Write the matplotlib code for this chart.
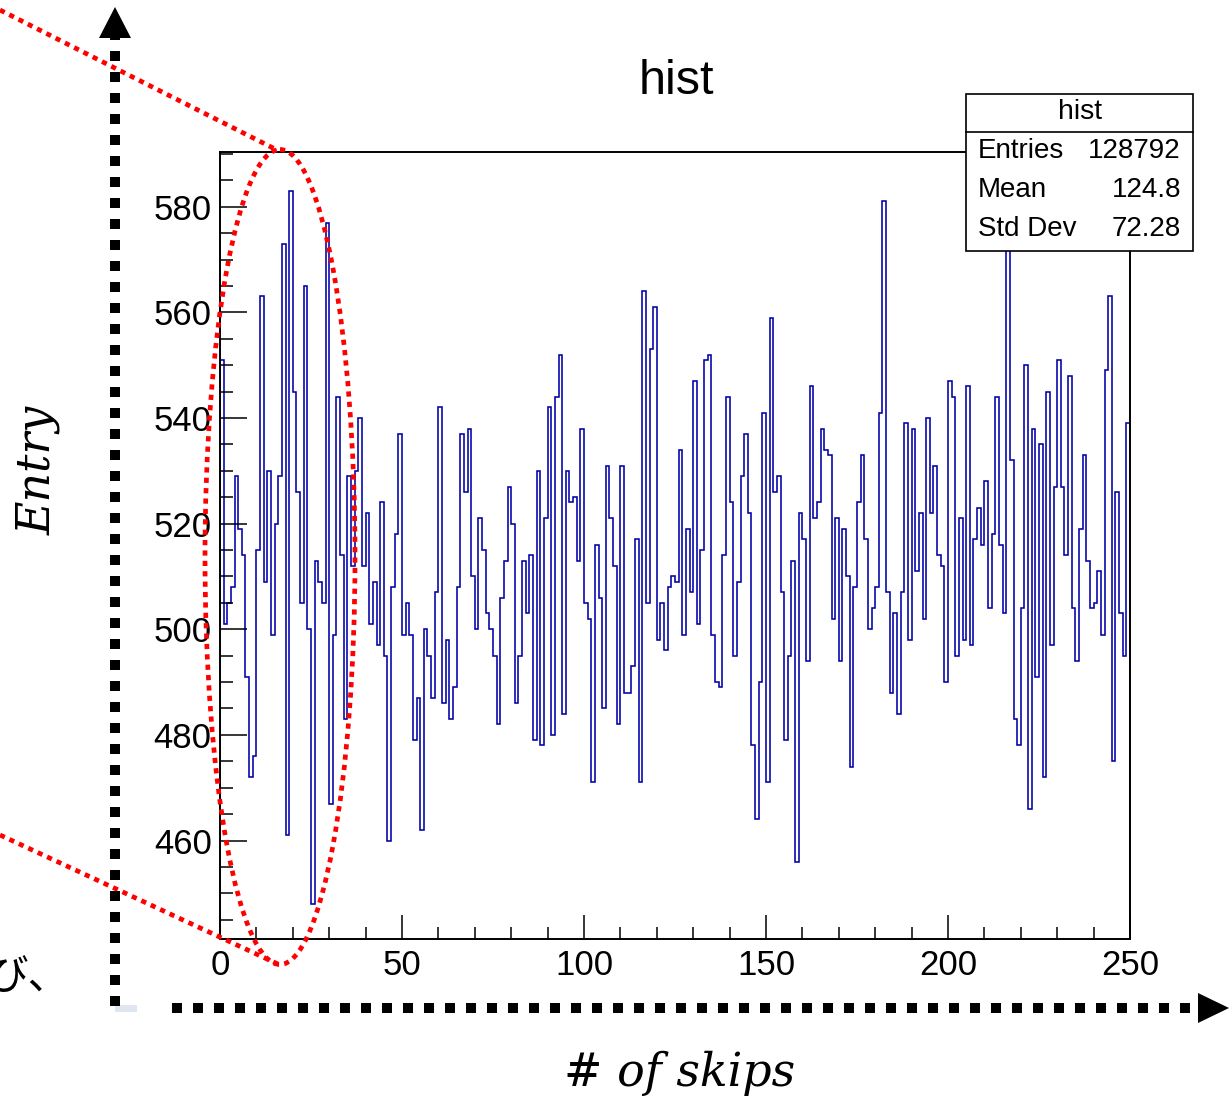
import numpy as np
import matplotlib
matplotlib.use('Agg')
import matplotlib.pyplot as plt
from matplotlib.patches import Ellipse, Polygon, Rectangle
from matplotlib.ticker import MultipleLocator

# 1 bin = 1 skip, 0..249
counts = [
    551, 501, 505, 508, 529, 519, 514, 491, 472, 476,
    515, 563, 509, 530, 499, 520, 529, 573, 461, 583,
    545, 526, 505, 565, 500, 448, 513, 509, 505, 577,
    467, 499, 544, 514, 483, 529, 512, 530, 540, 512,
    522, 501, 509, 497, 524, 495, 460, 508, 518, 537,
    499, 505, 499, 479, 487, 462, 500, 495, 487, 507,
    542, 486, 498, 483, 489, 508, 537, 526, 538, 510,
    500, 521, 515, 503, 500, 495, 482, 506, 513, 527,
    520, 486, 495, 513, 503, 514, 479, 530, 478, 521,
    542, 480, 544, 552, 484, 530, 524, 525, 513, 538,
    505, 502, 471, 516, 506, 485, 531, 521, 512, 482,
    531, 488, 488, 493, 517, 471, 564, 505, 553, 561,
    498, 505, 496, 508, 510, 509, 534, 499, 519, 507,
    547, 501, 515, 551, 552, 499, 490, 489, 514, 544,
    524, 495, 509, 529, 537, 522, 478, 464, 490, 541,
    471, 559, 526, 529, 507, 479, 495, 513, 456, 522,
    517, 494, 546, 521, 524, 538, 534, 533, 502, 521,
    494, 519, 510, 474, 508, 524, 533, 517, 500, 504,
    508, 541, 581, 507, 488, 503, 484, 507, 539, 498,
    538, 511, 522, 502, 540, 522, 531, 514, 512, 490,
    547, 544, 495, 521, 498, 546, 497, 517, 523, 516,
    528, 504, 518, 544, 516, 503, 574, 532, 483, 478,
    504, 550, 466, 538, 491, 535, 472, 545, 497, 527,
    551, 527, 514, 548, 504, 494, 519, 533, 513, 504,
    505, 511, 499, 549, 563, 475, 526, 503, 495, 539,
]
x_range = (0, 250)
y_range = (441.3, 590.3)
x_ticks = [0, 50, 100, 150, 200, 250]
y_ticks = [460, 480, 500, 520, 540, 560, 580]

title = 'hist'
stat_names = ['Entries', 'Mean', 'Std Dev']
stat_values = ['128792', '124.8', '72.28']
xlabel = '# of skips'
ylabel = 'Entry'
side_text = 'び、'

W, H = 1230, 1102
DPI = 100
SANS = 'Liberation Sans'


def main():
    fig = plt.figure(figsize=(W / DPI, H / DPI), dpi=DPI)

    # ROOT の TH1 っぽいフレーム（ピクセル指定で配置）
    l, t, r, b = 220, 152.3, 1130, 939.3
    ax = fig.add_axes([l / W, 1 - b / H, (r - l) / W, (b - t) / H])
    edges = np.arange(x_range[0], x_range[1] + 1)
    ax.stairs(counts, edges, baseline=y_range[0], color='#0000a8', lw=1.15)
    ax.set_xlim(*x_range)
    ax.set_ylim(*y_range)
    ax.set_xticks(x_ticks)
    ax.set_yticks(y_ticks)
    ax.xaxis.set_minor_locator(MultipleLocator(10))
    ax.yaxis.set_minor_locator(MultipleLocator(5))
    ax.tick_params(which='both', direction='in', top=False, right=False,
                   width=1.1, labelsize=25)
    ax.tick_params(axis='y', which='major', length=19.5, pad=6)
    ax.tick_params(axis='y', which='minor', length=9.5)
    ax.tick_params(axis='x', which='major', length=17, pad=7)
    ax.tick_params(axis='x', which='minor', length=8.5)
    for lab in ax.get_xticklabels() + ax.get_yticklabels():
        lab.set_family(SANS)
    for sp in ax.spines.values():
        sp.set_linewidth(1.4)

    # 上に重ねる注釈用の座標系（ピクセル、y 下向き）
    ov = fig.add_axes([0, 0, 1, 1], zorder=5)
    ov.set_xlim(0, W)
    ov.set_ylim(H, 0)
    ov.axis('off')

    ov.text(676, 82, title, ha='center', va='center', fontsize=35, family=SANS)

    # 統計ボックス
    ov.add_patch(Rectangle((966, 94), 227, 157, fc='white', ec='black', lw=1.2, zorder=3))
    ov.plot([966, 1193], [132, 132], color='black', lw=1.2, zorder=4)
    ov.text(1080, 112, title, ha='center', va='center', fontsize=20.5, family=SANS, zorder=4)
    for i, (name, val) in enumerate(zip(stat_names, stat_values)):
        y = 151 + i * 39
        ov.text(978, y, name, ha='left', va='center', fontsize=20, family=SANS, zorder=4)
        ov.text(1181, y, val, ha='right', va='center', fontsize=20, family=SANS, zorder=4)

    # 赤い点線の楕円と引き出し線
    red = dict(color='red', lw=3.4, ls=(0, (1.1, 1.1)))
    ov.plot([0, 277], [10, 150], **red)
    ov.plot([0, 280], [835, 965], **red)
    ov.add_patch(Ellipse((280, 557), 150, 815, fill=False, ec='red', lw=3.4,
                         ls=(0, (1.1, 1.1))))

    # 黒い点線の矢印（軸）
    blk = dict(color='black', lw=7.2, ls=(0, (1, 1.1)))
    ov.plot([115, 115], [1006, 38], **blk)
    ov.add_patch(Polygon([(115, 7), (99, 38), (131, 38)], closed=True,
                         fc='black', ec='none'))
    ov.plot([172, 1198], [1008, 1008], **blk)
    ov.add_patch(Polygon([(1229, 1008), (1198, 993), (1198, 1023)], closed=True,
                         fc='black', ec='none'))
    ov.add_patch(Rectangle((115, 1005), 22, 7, fc='#dfe6f0', ec='none'))

    ov.text(38, 470, ylabel, rotation=90, ha='center', va='center',
            fontsize=33, family='DejaVu Serif', style='italic')
    ov.text(680, 1073, xlabel, ha='center', va='center',
            fontsize=33, family='DejaVu Serif', style='italic')
    # 左端で切れている本文の一部
    ov.text(-14, 978, side_text, ha='left', va='center', fontsize=30,
            family=['Noto Sans CJK JP', 'DejaVu Sans'])

    fig.savefig('out.png', dpi=DPI)


if __name__ == '__main__':
    main()
